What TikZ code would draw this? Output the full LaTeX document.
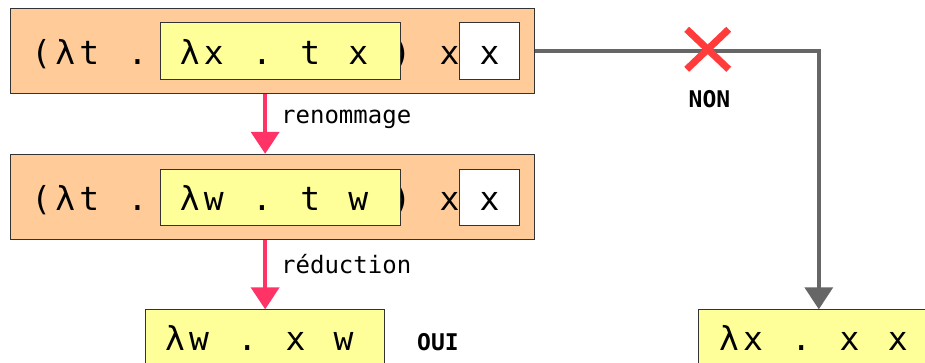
\documentclass[tikz,border=0pt]{standalone}
\usepackage{fontspec}
\usetikzlibrary{arrows.meta}
\newfontfamily\lamfont{DejaVu Sans Mono}
\newfontfamily\lblfont{DejaVu Sans Mono}

\definecolor{termorange}{RGB}{255,204,153}
\definecolor{termyellow}{RGB}{255,255,153}
\definecolor{stepred}{RGB}{255,51,102}
\definecolor{pathgray}{RGB}{102,102,102}
\definecolor{crossred}{RGB}{255,59,59}
\definecolor{boxedge}{RGB}{51,51,51}

% fixed-pitch cells for lambda terms (use ~ for a blank cell)
\newlength\cellw
\setlength\cellw{24.1bp}
\def\gridend{\gridend}
\newcommand\cells[1]{\cellsnext#1\gridend}
\def\cellsnext#1{\ifx#1\gridend\else\makebox[\cellw]{#1}\expandafter\cellsnext\fi}

\begin{document}
\begin{tikzpicture}[x=1bp,y=-1bp,
  termbox/.style={draw=boxedge, line width=1bp, anchor=north west, inner sep=0pt},
  outer/.style={termbox, fill=termorange, minimum width=523.2bp, minimum height=85.4bp},
  inner/.style={termbox, fill=termyellow, minimum width=240bp, minimum height=56.8bp},
  argbox/.style={termbox, fill=white, minimum width=60bp, minimum height=56.8bp},
  term/.style={inner sep=0pt, anchor=base west, font=\lamfont\fontsize{33bp}{39bp}\selectfont},
  steplabel/.style={inner sep=0pt, anchor=base west, font=\lblfont\fontsize{24bp}{28bp}\selectfont},
  verdict/.style={inner sep=0pt, font=\lblfont\bfseries\fontsize{23bp}{27bp}\selectfont},
  steparrow/.style={draw=stepred, line width=4bp, -{Triangle[width=28bp,length=22bp]}, color=stepred},
  patharrow/.style={draw=pathgray, line width=3.5bp, -{Triangle[width=28bp,length=22bp]}, color=pathgray},
]
\useasboundingbox (0,0) rectangle (925,362);
\fill[white] (0,0) rectangle (925,362);
\clip (0,0) rectangle (925,362);

% first term
\node[outer] (b1) at (10.3,7.6) {};
\node[term] (t1a) at (29,64.3) {\cells{(λt~.}};
\node[term] (t1c) at (389,64.3) {\cells{)~x}};
\node[inner] (y1) at (159.5,22.4) {};
\node[term] (t1b) at (177.5,64.3) {\cells{λx~.~t~x}};
\node[argbox] (w1) at (459,22.4) {};
\node[term, anchor=base] (t1d) at (w1.center |- t1b.base) {x};

% renamed term
\node[outer] (b2) at (10.3,153.8) {};
\node[term] (t2a) at (29,210.5) {\cells{(λt~.}};
\node[term] (t2c) at (389,210.5) {\cells{)~x}};
\node[inner] (y2) at (159.5,168.6) {};
\node[term] (t2b) at (177.5,210.5) {\cells{λw~.~t~w}};
\node[argbox] (w2) at (459,168.6) {};
\node[term, anchor=base] (t2d) at (w2.center |- t2b.base) {x};

% results
\node[inner, minimum width=239.3bp] (r1) at (145,309.3) {};
\node[term] (t3) at (162.7,350.7) {\cells{λw~.~x~w}};
\node[inner] (r2) at (698.3,309.3) {};
\node[term] (t4) at (716.8,350.7) {\cells{λx~.~x~x}};

% correct path
\draw[steparrow] (r1.north |- b1.south) -- (r1.north |- b2.north);
\draw[steparrow] (r1.north |- b2.south) -- (r1.north);
\node[steplabel] (l1) at (281,123.3) {renommage};
\node[steplabel] (l2) at (281,273.3) {réduction};
\node[verdict, anchor=base west] (oui) at (417,350.7) {OUI};

% wrong path
\draw[patharrow] (b1.east) -| (r2.north);
\coordinate (cross) at (707.7,49.3);
\draw[crossred, line width=7bp] ([shift={(-21,-20)}]cross) -- ([shift={(21,20)}]cross);
\draw[crossred, line width=7bp] ([shift={(-21,20)}]cross) -- ([shift={(21,-20)}]cross);
\node[verdict, anchor=base] (non) at (709.5,107.3) {NON};
\end{tikzpicture}
\end{document}
